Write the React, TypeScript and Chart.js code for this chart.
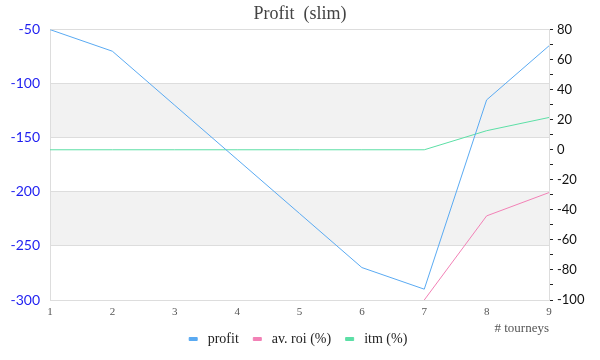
import React, { useEffect, useRef } from "react";
import { Chart, registerables } from "chart.js";

Chart.register(...registerables);

const tourneys = ["1", "2", "3", "4", "5", "6", "7", "8", "9"];
const profit = [-50, -70, -120, -170, -220, -270, -290, -115, -65];
const avRoi = [null, null, null, null, null, null, -100, -44, -28.5];
const itm = [0, 0, 0, 0, 0, 0, 0, 12.7, 21.5];
const shadedBands = [[-150, -100], [-250, -200]];

const bandPlugin = {
  id: "bands",
  beforeDraw(chart: any) {
    const { ctx, chartArea, scales } = chart;
    const y = scales.y;
    ctx.save();
    ctx.fillStyle = "#f2f2f2";
    for (const [lo, hi] of shadedBands) {
      const top = y.getPixelForValue(hi);
      const bot = y.getPixelForValue(lo);
      ctx.fillRect(chartArea.left, top, chartArea.right - chartArea.left, bot - top);
    }
    ctx.restore();
  },
};

export default function App() {
  const ref = useRef<HTMLCanvasElement>(null);
  useEffect(() => {
    const chart = new Chart(ref.current!, {
      type: "line",
      data: {
        labels: tourneys,
        datasets: [
          { label: "profit", data: profit, borderColor: "#5aaaf2", backgroundColor: "#5aaaf2", borderWidth: 1, pointRadius: 0, yAxisID: "y" },
          { label: "av. roi (%)", data: avRoi as any, borderColor: "#f281b6", backgroundColor: "#f281b6", borderWidth: 1, pointRadius: 0, yAxisID: "y1" },
          { label: "itm (%)", data: itm, borderColor: "#5cdfa6", backgroundColor: "#5cdfa6", borderWidth: 1, pointRadius: 0, yAxisID: "y1" },
        ],
      },
      options: {
        animation: false,
        responsive: true,
        maintainAspectRatio: false,
        layout: { padding: 0 },
        plugins: {
          title: {
            display: true,
            text: "Profit  (slim)",
            color: "#444",
            font: { family: "'Liberation Serif'", size: 18, weight: "normal" },
            padding: { top: 3, bottom: 5 },
          },
          legend: {
            position: "bottom",
            labels: {
              boxWidth: 8,
              boxHeight: 3,
              padding: 11,
              color: "#222",
              font: { family: "'Liberation Serif'", size: 14 },
              generateLabels: (chart: any) =>
                Chart.defaults.plugins.legend.labels.generateLabels(chart).map((l: any) => ({ ...l, text: " " + l.text + " " })),
            },
          },
          tooltip: { enabled: false },
        },
        scales: {
          x: {
            offset: false,
            grid: { display: false, drawTicks: false, tickLength: 0 },
            border: { color: "#dddddd" },
            ticks: { color: "#555", font: { family: "'Liberation Serif'", size: 11 }, padding: 6, maxRotation: 0 },
            title: {
              display: true,
              text: "# tourneys",
              align: "end",
              color: "#555",
              font: { family: "'Liberation Serif'", size: 13 },
              padding: { top: 0, bottom: -15 },
            },
            afterFit(s: any) { s.height = 21; },
          },
          y: {
            position: "left",
            min: -300,
            max: -50,
            grid: { color: "#dddddd", drawTicks: false },
            border: { color: "#dddddd" },
            ticks: { stepSize: 50, color: "#1e1ef0", padding: 10, font: { family: "Lato", size: 14 } },
            afterFit(s: any) { s.width = 50; },
          },
          y1: {
            position: "right",
            min: -100,
            max: 80,
            grid: { drawOnChartArea: false, color: "#222", tickLength: 4 },
            border: { color: "#dddddd" },
            ticks: {
              stepSize: 10,
              autoSkip: false,
              color: "#111",
              padding: 4,
              font: { family: "Lato", size: 13 },
              callback: (v: any) => (Math.round(v) % 20 === 0 ? String(v) : ""),
            },
            afterFit(s: any) { s.width = 51; },
          },
        },
      },
      plugins: [bandPlugin],
    });
    return () => chart.destroy();
  }, []);
  return (
    <div style={{ position: "absolute", left: 0, top: 0, width: 600, height: 356 }}>
      <canvas ref={ref} />
    </div>
  );
}
